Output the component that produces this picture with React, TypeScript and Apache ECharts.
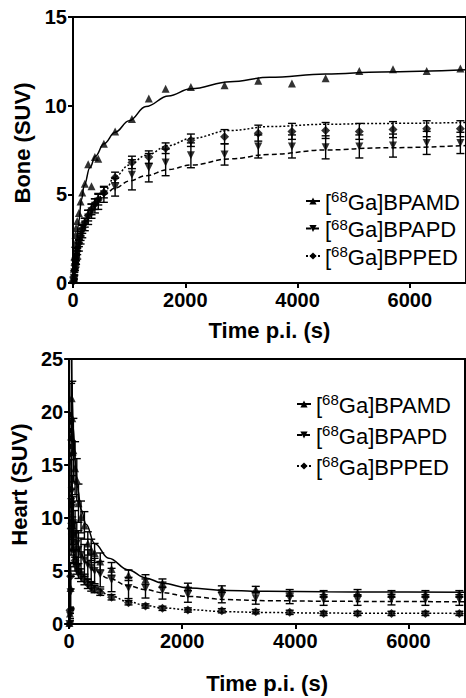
import React, { useEffect, useRef } from 'react';
import * as echarts from 'echarts';

// ---------- data ----------
const seriesNames = ['BPAMD', 'BPAPD', 'BPPED'];
const frameTimes = [5, 15, 25, 35, 45, 55, 75, 105, 135, 165, 210, 270, 330, 390, 450, 550, 750, 1050, 1350, 1650, 2100, 2700, 3300, 3900, 4500, 5100, 5700, 6300, 6900];
const xTicks = [0, 2000, 4000, 6000];

// Bone (SUV)
const boneBPAMD = [0.2, 0.8, 1.5, 2.2, 2.7, 3.1, 3.5, 3.95, 4.6, 5.1, 5.6, 6.7, 5.45, 7.1, 7.0, 7.85, 8.55, 9.25, 10.4, 10.95, 11.05, 11.15, 11.4, 11.25, 11.55, 11.95, 12.05, 11.95, 12.1];
const boneBPAPD = [0.1, 0.3, 0.6, 0.9, 1.1, 1.3, 1.65, 2.1, 2.5, 2.9, 3.3, 3.7, 4.05, 4.35, 4.6, 5.0, 5.4, 6.1, 6.5, 6.8, 7.2, 7.25, 7.7, 7.7, 7.65, 7.7, 7.75, 7.9, 7.9];
const boneErrBPAPD = [0.05, 0.1, 0.15, 0.2, 0.2, 0.25, 0.3, 0.3, 0.3, 0.35, 0.35, 0.4, 0.4, 0.4, 0.45, 0.45, 0.5, 0.85, 0.8, 0.75, 0.7, 0.6, 0.65, 0.65, 0.65, 0.65, 0.65, 0.65, 0.6];
const boneBPPED = [0.1, 0.35, 0.7, 1.0, 1.25, 1.45, 1.8, 2.25, 2.65, 3.05, 3.4, 3.8, 4.15, 4.45, 4.7, 5.1, 5.95, 6.8, 7.1, 7.6, 8.05, 8.25, 8.45, 8.55, 8.6, 8.55, 8.65, 8.7, 8.7];
const boneErrBPPED = [0.05, 0.1, 0.1, 0.15, 0.15, 0.2, 0.2, 0.2, 0.25, 0.25, 0.25, 0.3, 0.3, 0.3, 0.3, 0.3, 0.3, 0.35, 0.35, 0.3, 0.35, 0.4, 0.45, 0.45, 0.45, 0.45, 0.45, 0.45, 0.45];

const boneFitTimes = [0, 30, 60, 100, 150, 200, 300, 400, 550, 750, 1000, 1300, 1700, 2100, 2800, 3500, 4500, 5500, 7000];
const boneFitBPAMD = [0, 1.2, 2.2, 3.4, 4.7, 5.5, 6.5, 7.15, 7.85, 8.5, 9.15, 9.95, 10.55, 10.95, 11.35, 11.6, 11.78, 11.9, 12.02];
const boneFitBPAPD = [0, 0.8, 1.4, 2.1, 2.75, 3.2, 3.9, 4.4, 4.95, 5.35, 5.75, 6.05, 6.4, 6.65, 7.0, 7.25, 7.5, 7.62, 7.75];
const boneFitBPPED = [0, 0.8, 1.4, 2.1, 2.8, 3.3, 4.0, 4.5, 5.1, 6.0, 6.65, 7.2, 7.75, 8.15, 8.6, 8.82, 8.95, 9.0, 9.05];

// Heart (SUV)
const heartBPAMD = [0.1, 1.0, 3.4, 17.7, 21.3, 19.4, 16.4, 14.7, 13.6, 11.4, 10.1, 9.3, 7.6, 7.0, 6.7, 5.9, 5.2, 4.6, 4.2, 3.85, 3.5, 3.3, 3.25, 2.95, 2.85, 2.95, 2.85, 2.85, 2.85];
const heartErrBPAMD = [0.1, 0.5, 2.0, 5.0, 4.0, 3.5, 3.0, 2.5, 2.0, 1.8, 1.5, 1.3, 1.1, 1.0, 0.9, 0.8, 0.6, 0.5, 0.45, 0.4, 0.35, 0.3, 0.3, 0.3, 0.3, 0.3, 0.3, 0.3, 0.3];
const heartBPAPD = [0.0, 0.8, 3.0, 11.5, 12.5, 11.0, 9.5, 8.5, 7.6, 7.0, 6.5, 6.0, 5.6, 5.3, 5.0, 4.7, 4.15, 3.4, 3.35, 3.15, 2.75, 2.6, 2.42, 2.42, 2.26, 2.26, 2.3, 2.26, 2.26];
const heartErrBPAPD = [0.05, 0.5, 1.5, 4.0, 3.5, 3.0, 2.5, 2.2, 2.0, 1.8, 1.6, 1.5, 1.4, 1.3, 1.2, 1.2, 1.1, 1.0, 0.9, 0.8, 0.7, 0.6, 0.55, 0.5, 0.5, 0.5, 0.5, 0.5, 0.5];
const heartBPPED = [0.0, 1.3, 4.5, 9.0, 9.5, 8.5, 7.0, 6.0, 5.5, 5.0, 4.6, 4.2, 3.8, 3.5, 3.3, 3.0, 2.52, 2.0, 1.7, 1.48, 1.32, 1.25, 1.16, 1.1, 1.0, 1.0, 1.0, 1.0, 1.0];
const heartErrBPPED = [0.05, 0.3, 1.2, 2.5, 2.0, 1.6, 1.2, 1.0, 0.8, 0.7, 0.6, 0.5, 0.45, 0.4, 0.35, 0.3, 0.25, 0.2, 0.2, 0.2, 0.2, 0.2, 0.2, 0.2, 0.2, 0.2, 0.2, 0.2, 0.2];

const heartFitTimes = [25, 35, 50, 75, 105, 150, 210, 300, 450, 700, 1050, 1350, 1650, 2100, 2800, 3500, 4500, 5500, 7000];
const heartFitBPAMD = [40, 28, 22, 18.5, 15.5, 12.8, 10.8, 9.4, 7.6, 6.2, 5.1, 4.35, 3.85, 3.4, 3.15, 3.08, 3.04, 3.02, 3.0];
const heartFitBPAPD = [20, 15, 12, 10, 8.8, 7.5, 6.6, 5.8, 5.0, 4.3, 3.6, 3.25, 2.95, 2.6, 2.3, 2.2, 2.15, 2.12, 2.1];
const heartFitBPPED = [13, 10.5, 8.5, 7.0, 6.0, 5.3, 4.7, 4.2, 3.5, 2.75, 2.1, 1.75, 1.52, 1.35, 1.15, 1.08, 1.03, 1.01, 1.0];

// ---------- styling ----------
const FONT = 'Liberation Sans, Arial, sans-serif';
const markerStyle: Record<string, { symbol: string; rotate: number; line: any }> = {
  BPAMD: { symbol: 'triangle', rotate: 0, line: 'solid' },
  BPAPD: { symbol: 'triangle', rotate: 180, line: [5, 3] },
  BPPED: { symbol: 'diamond', rotate: 0, line: [2, 2] },
};

function fitSeries(name: string, idx: number, times: number[], vals: number[]) {
  const s = markerStyle[name];
  return {
    type: 'line', name, xAxisIndex: idx, yAxisIndex: idx,
    data: times.map((t, i) => [t, vals[i]]),
    showSymbol: false, symbol: s.symbol, symbolRotate: s.rotate, symbolSize: 8,
    smooth: 0.4, smoothMonotone: 'x', clip: true,
    lineStyle: { color: '#000', width: 1.5, type: s.line },
    itemStyle: { color: '#000' }, z: 2, silent: true,
  };
}

function pointSeries(name: string, idx: number, vals: number[]) {
  const s = markerStyle[name];
  return {
    type: 'scatter', name, xAxisIndex: idx, yAxisIndex: idx,
    data: frameTimes.map((t, i) => [t, vals[i]]),
    symbol: s.symbol, symbolRotate: s.rotate, symbolSize: s.symbol === 'diamond' ? 9 : 8,
    itemStyle: { color: '#000' }, z: 4, silent: true,
  };
}

function errorSeries(name: string, idx: number, vals: number[], errs: number[], yMax: number) {
  return {
    type: 'custom', name, xAxisIndex: idx, yAxisIndex: idx, silent: true, clip: true, z: 3,
    data: frameTimes.map((t, i) => [t, vals[i] - errs[i], vals[i] + errs[i]]),
    encode: { x: 0, y: [1, 2] },
    renderItem: (params: any, api: any) => {
      const x = api.value(0);
      const lo = Math.max(0, api.value(1));
      const hiRaw = api.value(2);
      const hi = Math.min(yMax, hiRaw);
      const top = api.coord([x, hi]);
      const bot = api.coord([x, lo]);
      const w = 4;
      const st = { stroke: '#000', lineWidth: 1.4 };
      const children: any[] = [
        { type: 'line', shape: { x1: top[0], y1: top[1], x2: bot[0], y2: bot[1] }, style: st },
        { type: 'line', shape: { x1: bot[0] - w, y1: bot[1], x2: bot[0] + w, y2: bot[1] }, style: st },
      ];
      if (hiRaw <= yMax) {
        children.push({ type: 'line', shape: { x1: top[0] - w, y1: top[1], x2: top[0] + w, y2: top[1] }, style: st });
      }
      return { type: 'group', children };
    },
  };
}

const axisLineStyle = { color: '#000', width: 2 };
const tickLabel = { color: '#000', fontSize: 20, fontWeight: 'bold', fontFamily: FONT };
const nameStyle = { color: '#000', fontSize: 22, fontWeight: 'bold', fontFamily: FONT };

function xAxis(idx: number, gap: number) {
  return {
    gridIndex: idx, type: 'value', min: 0, max: 7000, interval: 2000,
    axisLine: { show: true, onZero: false, lineStyle: axisLineStyle },
    axisTick: { show: true, length: 5, lineStyle: axisLineStyle, customValues: xTicks },
    axisLabel: { ...tickLabel, margin: 7, customValues: xTicks, formatter: (v: number) => String(v) },
    splitLine: { show: false },
    name: 'Time p.i. (s)', nameLocation: 'middle', nameGap: gap, nameTextStyle: nameStyle,
  };
}

function yAxis(idx: number, max: number, name: string, gap: number) {
  return {
    gridIndex: idx, type: 'value', min: 0, max, interval: 5,
    axisLine: { show: true, lineStyle: axisLineStyle },
    axisTick: { show: true, length: 5, lineStyle: axisLineStyle },
    axisLabel: { ...tickLabel, margin: 6 },
    splitLine: { show: false },
    name, nameLocation: 'middle', nameGap: gap,
    nameTextStyle: { ...nameStyle, padding: [0, 0, 0, 14] },
  };
}

const legendText = {
  color: '#000', fontFamily: FONT, fontSize: 22,
  rich: {
    a: { color: '#000', fontFamily: FONT, fontSize: 22, lineHeight: 24, verticalAlign: 'bottom' },
    s: { color: '#000', fontFamily: FONT, fontSize: 15, lineHeight: 15, verticalAlign: 'top' },
  },
};

function legend(left: number, top: number, gap: number) {
  return {
    data: seriesNames, orient: 'vertical', left, top, itemGap: gap,
    itemWidth: 14, itemHeight: 9, selectedMode: false,
    formatter: (n: string) => '{a|[}{s|68}{a|Ga]' + n + '}',
    textStyle: legendText,
  };
}

const option: any = {
  animation: false,
  backgroundColor: '#fff',
  grid: [
    { left: 73, top: 17, width: 397, height: 266, show: true, borderColor: '#000', borderWidth: 2 },
    { left: 68, top: 359, width: 397, height: 265, show: true, borderColor: '#000', borderWidth: 2 },
  ],
  xAxis: [xAxis(0, 36), xAxis(1, 48)],
  yAxis: [yAxis(0, 15, 'Bone (SUV)', 32), yAxis(1, 25, 'Heart (SUV)', 37)],
  legend: [legend(300, 184, 3.5), legend(291, 387, 7)],
  series: [
    fitSeries('BPAMD', 0, boneFitTimes, boneFitBPAMD),
    fitSeries('BPAPD', 0, boneFitTimes, boneFitBPAPD),
    fitSeries('BPPED', 0, boneFitTimes, boneFitBPPED),
    errorSeries('BPAPD', 0, boneBPAPD, boneErrBPAPD, 15),
    errorSeries('BPPED', 0, boneBPPED, boneErrBPPED, 15),
    pointSeries('BPAMD', 0, boneBPAMD),
    pointSeries('BPAPD', 0, boneBPAPD),
    pointSeries('BPPED', 0, boneBPPED),

    fitSeries('BPAMD', 1, heartFitTimes, heartFitBPAMD),
    fitSeries('BPAPD', 1, heartFitTimes, heartFitBPAPD),
    fitSeries('BPPED', 1, heartFitTimes, heartFitBPPED),
    errorSeries('BPAMD', 1, heartBPAMD, heartErrBPAMD, 25),
    errorSeries('BPAPD', 1, heartBPAPD, heartErrBPAPD, 25),
    errorSeries('BPPED', 1, heartBPPED, heartErrBPPED, 25),
    pointSeries('BPAMD', 1, heartBPAMD),
    pointSeries('BPAPD', 1, heartBPAPD),
    pointSeries('BPPED', 1, heartBPPED),
  ],
};

export default function App() {
  const ref = useRef<HTMLDivElement>(null);
  useEffect(() => {
    if (!ref.current) return;
    const chart = echarts.init(ref.current, null, { renderer: 'svg' });
    chart.setOption(option);
    return () => chart.dispose();
  }, []);
  return (
    <div
      ref={ref}
      style={{ position: 'absolute', left: 0, top: 0, width: 466, height: 698, background: '#fff' }}
    />
  );
}
